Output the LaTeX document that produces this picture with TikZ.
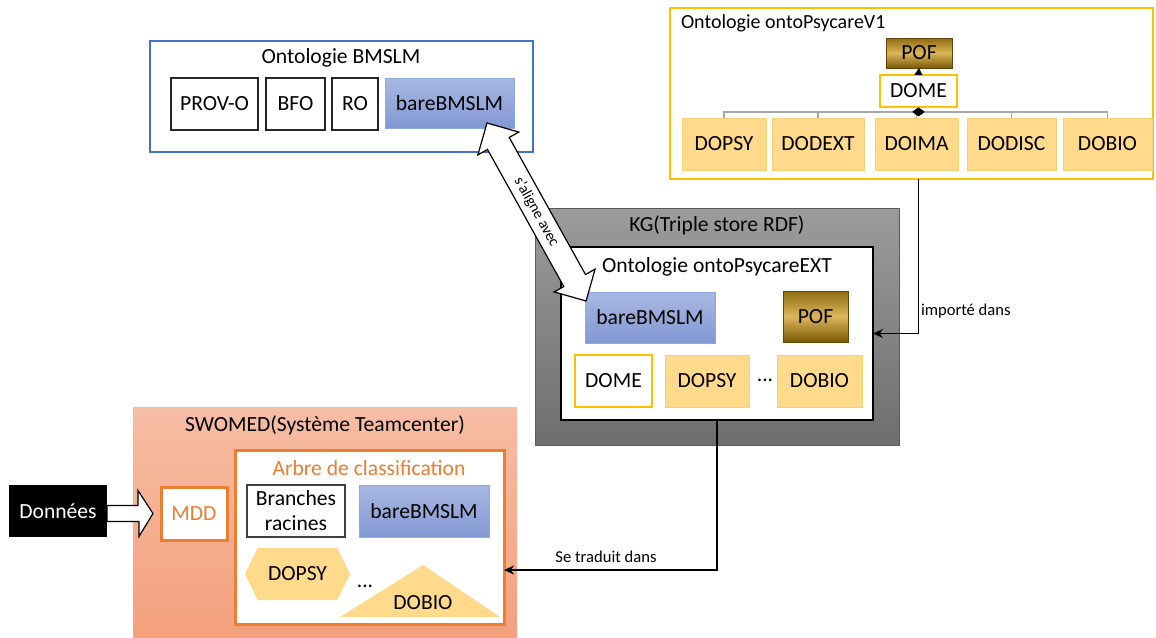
\documentclass[tikz,border=0pt]{standalone}
\usepackage{fontspec}
\setmainfont{Carlito}
\usetikzlibrary{shapes.geometric,shapes.arrows,shapes.symbols,arrows.meta,calc}
\definecolor{bblue}{HTML}{4472C4}
\definecolor{bluetop}{HTML}{A8B8E2}
\definecolor{bluebot}{HTML}{8298D2}
\definecolor{blueline}{HTML}{8EA9DB}
\definecolor{yel}{HTML}{FFC000}
\definecolor{ofill}{HTML}{FFD98C}
\definecolor{oline}{HTML}{F9CF73}
\definecolor{goldtop}{HTML}{8E6C12}
\definecolor{goldmid}{HTML}{DDB65A}
\definecolor{goldbot}{HTML}{7A5806}
\definecolor{kgtop}{HTML}{9C9C9C}
\definecolor{kgbot}{HTML}{6E6E6E}
\definecolor{swtop}{HTML}{F6BDA5}
\definecolor{swbot}{HTML}{F4A07C}
\definecolor{orng}{HTML}{ED7D31}
\definecolor{treegray}{HTML}{A6A6A6}
\tikzset{
  sz/.style 2 args={minimum width=#1*0.5pt, minimum height=#2*0.5pt},
  base/.style={inner sep=0pt, outer sep=0pt},
  wbox/.style={base, draw=black!85, fill=white, line width=0.6pt},
  bluebox/.style={base, draw=blueline, line width=0.5pt, top color=bluetop, bottom color=bluebot},
  obox/.style={base, draw=oline, line width=0.5pt, fill=ofill},
  goldbox/.style={base, draw=goldbot!80!black, line width=0.5pt, top color=goldtop, bottom color=goldbot, middle color=goldmid},
  yelbox/.style={base, draw=yel, line width=1.2pt, fill=white},
  small/.style={font=\fontsize{8.3}{10}\selectfont},
  conn/.style={line width=0.9pt, -{Stealth[length=5pt,width=4.5pt]}},
  tree/.style={draw=treegray, line width=0.6pt},
}
\begin{document}
\begin{tikzpicture}[x=0.5pt, y=-0.5pt, font=\fontsize{10.8}{12.5}\selectfont]
\useasboundingbox (0,0) rectangle (1156,637);

% ---------- Ontologie BMSLM ----------
\node[base, draw=bblue, line width=0.75pt, fill=white, sz={383}{111}] (bmslm) at (341.5,96.5) {};
\node[base] (tbmslm) at (341,58) {Ontologie BMSLM};
\node[wbox, sz={87}{52}] (provo) at (214.5,104) {PROV-O};
\node[wbox, sz={59}{52}] (bfo) at (295.5,104) {BFO};
\node[wbox, sz={46}{52}] (ro) at (355,104) {RO};
\node[bluebox, sz={129}{50}] (bare1) at (449.5,103) {bareBMSLM};

% ---------- Ontologie ontoPsycareV1 ----------
\node[base, draw=yel, line width=1.2pt, fill=white, sz={483}{171}] (v1) at (911.5,93.5) {};
\node[base, anchor=west, font=\fontsize{10}{12}\selectfont] (tv1) at (681,23) {Ontologie ontoPsycareV1};
\node[goldbox, sz={66}{30}] (pof1) at (919,53) {POF};
\node[yelbox, sz={77}{32}] (dome1) at (918.5,91) {DOME};
\node[obox, sz={84}{52}] (dopsy1) at (724,144) {DOPSY};
\node[obox, sz={92}{52}] (dodext) at (818,144) {DODEXT};
\node[obox, sz={83}{52}] (doima) at (916.5,144) {DOIMA};
\node[obox, sz={89}{52}] (dodisc) at (1011.5,144) {DODISC};
\node[obox, sz={89}{52}] (dobio1) at (1107.5,144) {DOBIO};
\node[diamond, fill=black, inner sep=0pt, minimum width=6.5pt, minimum height=4.5pt, anchor=north] (dia) at (dome1.south) {};
\foreach \b in {dopsy1,dodext,doima,dodisc,dobio1}
  \draw[tree] (dia.center) -| (\b.north);
\node[diamond, fill=black, inner sep=0pt, minimum width=6.5pt, minimum height=4.5pt] at (dia.center) {};
\draw[line width=0.5pt, -{Triangle[length=3.5pt,width=4pt]}] (dome1.north) -- (pof1.south);

% ---------- KG ----------
\node[base, draw=black!65, line width=0.5pt, top color=kgtop, bottom color=kgbot, sz={364}{237}] (kg) at (717,326.5) {};
\node[base] (tkg) at (717,225) {KG(Triple store RDF)};
\node[base, draw=black, line width=1.2pt, fill=white, sz={312}{173}] (ext) at (717,333.5) {};
\node[base] (text) at (717,267) {Ontologie ontoPsycareEXT};
\node[bluebox, sz={130}{51}] (bare2) at (650,317.5) {bareBMSLM};
\node[goldbox, sz={65}{51}] (pof2) at (815.5,316.5) {POF};
\node[yelbox, sz={77}{52}] (dome2) at (613.5,381) {DOME};
\node[obox, sz={84}{52}] (dopsy2) at (707,381) {DOPSY};
\node[base] (dots2) at (765,380) {...};
\node[obox, sz={85}{52}] (dobio2) at (819.5,381) {DOBIO};

% importé dans
\draw[conn] (dome1 |- v1.south) |- (ext.east);
\node[base, small, anchor=west] (limp) at (921,311) {importé dans};

% ---------- SWOMED ----------
\node[base, top color=swtop, bottom color=swbot, sz={384}{232}] (swomed) at (325,523) {};
\node[base] (tsw) at (325,425) {SWOMED(Système Teamcenter)};
\node[base, draw=orng, line width=1.5pt, fill=white, sz={269}{174}] (arbre) at (369.5,537) {};
\node[base, text=orng] (tarbre) at (369,468) {Arbre de classification};
\node[wbox, draw=black!75, sz={98}{52}, align=center] (branch) at (296,511) {Branches\\racines};
\node[bluebox, sz={130}{52}] (bare3) at (424,511) {bareBMSLM};
\node[base, signal, signal to=east and west, signal pointer angle=128, fill=ofill, sz={105}{52}] (dopsy3) at (297.5,574) {DOPSY};
\node[base] (dots3) at (365,586) {...};
\fill[ofill] (340,617) -- (423,565) -- (500,617) -- cycle;
\node[base] (dobio3) at (423,603) {DOBIO};

\node[base, draw=orng, line width=1.5pt, fill=white, text=orng, sz={66}{53}] (mdd) at (194,513.5) {MDD};
\node[base, fill=black, text=white, sz={98}{52}] (don) at (58,511) {Données};
\draw[fill=white, line width=0.6pt] ($(mdd.west)+(-8,0)$) -- ++(-15,-23) -- ++(0,15) -- (don.east |- 0,505.5) -- ++(0,16) -- ++(32,0) -- ++(0,15) -- cycle;

% Se traduit dans
\draw[conn] (ext.south) |- (arbre.east |- 0,570);
\node[base, small] (ltrad) at (606,557) {Se traduit dans};

% s'aligne avec
\coordinate (A) at (487,123);
\coordinate (B) at (586,301);
\node[double arrow, draw, fill=white, line width=0.6pt, rotate=-60.9,
      minimum height=203.7*0.5pt, double arrow head extend=5.5pt,
      inner xsep=0.75pt, inner ysep=2pt, text height=6pt, text depth=1.8pt,
      font=\fontsize{7.6}{9}\selectfont] (align) at ($(A)!0.5!(B)$) {s'aligne avec};
\end{tikzpicture}
\end{document}
